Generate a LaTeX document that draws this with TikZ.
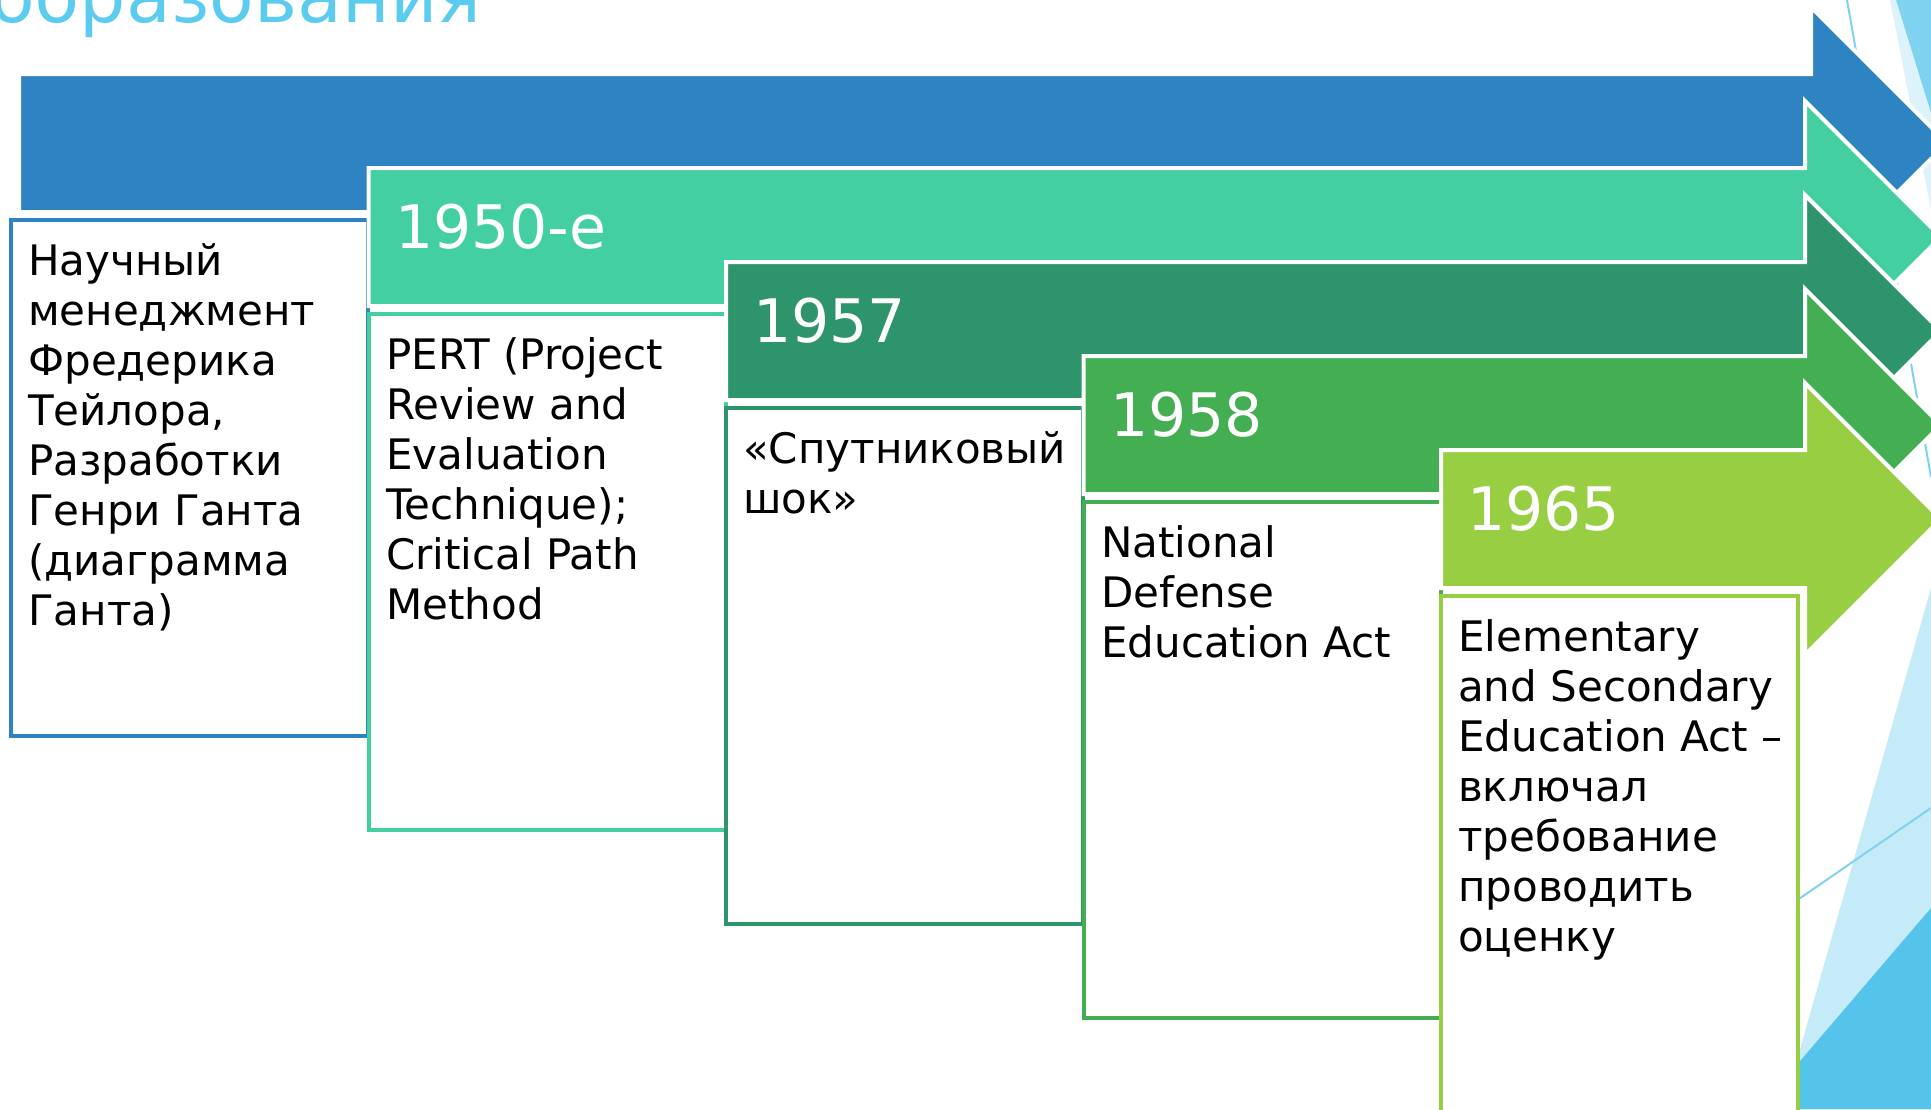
\documentclass[tikz,border=0pt]{standalone}
\usepackage{fontspec}
\setmainfont{DejaVu Sans}
\definecolor{cBlue}{HTML}{2E83C2}
\definecolor{cTeal}{HTML}{43CFA2}
\definecolor{cDark}{HTML}{2E946C}
\definecolor{cGreen}{HTML}{44AF52}
\definecolor{cLime}{HTML}{98CF42}
\definecolor{bgPale}{HTML}{C5EBF8}
\definecolor{bgMid}{HTML}{7FD3F0}
\definecolor{bgDeep}{HTML}{55C4EA}
\definecolor{bgFaint}{HTML}{DDF3FB}
\definecolor{titleBlue}{HTML}{5BCBF0}

\begin{document}
\begin{tikzpicture}[x=1pt, y=-1pt,
    band/.style={fill=#1, draw=white, line width=4pt},
    card/.style={fill=white, draw=#1, line width=4pt},
    year/.style={anchor=base west, inner sep=0pt, text=white, font=\fontsize{60}{70}\selectfont},
    body/.style={anchor=base west, inner sep=0pt, font=\fontsize{42}{50}\selectfont}]
    \useasboundingbox (0,0) rectangle (1931,1109);
    % background corner
    \fill[bgPale] (1931,588) -- (1783,1109) -- (1931,1109) -- cycle;
    \fill[bgDeep] (1931,908) -- (1759,1109) -- (1931,1109) -- cycle;
    \draw[bgMid, line width=2pt] (1700,967) -- (1931,808);
    \fill[bgFaint] (1890,0) -- (1896,0) -- (1931,113) -- (1931,210) -- cycle;
    \fill[bgMid] (1896,0) -- (1931,0) -- (1931,113) -- cycle;
    \draw[bgMid, line width=2pt] (1847,0) -- (1931,477);
    \node[anchor=base west, inner sep=0pt, text=titleBlue, font=\fontsize{73}{80}\selectfont] (title) at (-10,22) {образования};
    % arrows and cards
    \foreach \k/\col in {0/cBlue,1/cTeal,2/cDark,3/cGreen,4/cLime} {
        \pgfmathsetmacro{\lx}{11+357.5*\k}
        \pgfmathsetmacro{\ax}{\lx+8*(\k==0)}
        \pgfmathsetmacro{\hx}{1805+6*(\k==0)}
        \pgfmathsetmacro{\ry}{74+94*\k}
        \draw[band=\col] (\ax,\ry) -- (\hx,\ry) -- (\hx,\ry-67) -- (\hx+136,\ry+69)
            -- (\hx,\ry+205) -- (\hx,\ry+138) -- (\ax,\ry+138) -- cycle;
        \draw[card=\col] (\lx,\ry+146) rectangle (\lx+357,\ry+662);
    }
    \node[year] (y1) at (395,248) {1950-е};
    \node[year] (y2) at (753,342) {1957};
    \node[year] (y3) at (1110,436) {1958};
    \node[year] (y4) at (1467,530) {1965};
    \node[body] (t0) at (28,275) {\parbox[t]{340pt}{Научный\\менеджмент\\Фредерика\\Тейлора,\\Разработки\\Генри Ганта\\(диаграмма\\Ганта)}};
    \node[body] (t1) at (386,369) {\parbox[t]{340pt}{PERT (Project\\Review and\\Evaluation\\Technique);\\Critical Path\\Method}};
    \node[body] (t2) at (743,463) {\parbox[t]{340pt}{«Спутниковый\\шок»}};
    \node[body] (t3) at (1101,557) {\parbox[t]{340pt}{National\\Defense\\Education Act}};
    \node[body] (t4) at (1458,651) {\parbox[t]{340pt}{Elementary\\and Secondary\\Education Act –\\включал\\требование\\проводить\\оценку}};
\end{tikzpicture}
\end{document}
